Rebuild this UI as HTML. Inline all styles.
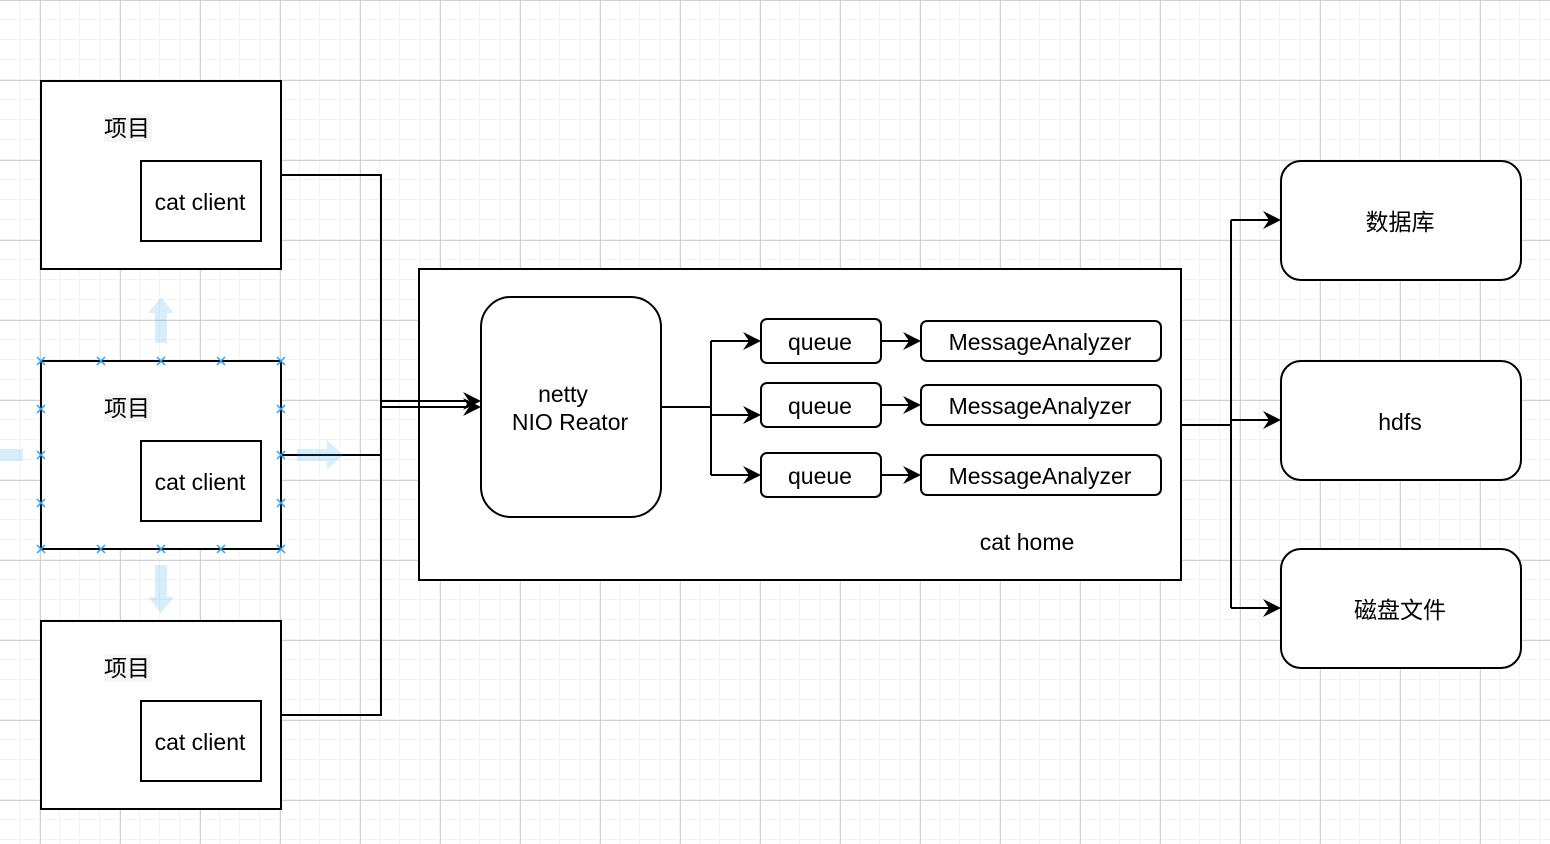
<!DOCTYPE html>
<html><head><meta charset="utf-8"><style>
html,body{margin:0;padding:0;background:#fff;}
svg{display:block;}
text{font-family:"Liberation Sans","Noto Sans CJK SC",sans-serif;font-size:23px;fill:#000;}
</style></head><body>
<svg width="1550" height="844" xmlns="http://www.w3.org/2000/svg">
<defs>
<pattern id="minor" width="20" height="20" patternUnits="userSpaceOnUse">
<path d="M20 0V20M0 20H20" stroke="#f2f2f2" stroke-width="1" fill="none" transform="translate(-0.5,-0.5)"/>
</pattern>
<pattern id="major" x="40" y="0" width="80" height="80" patternUnits="userSpaceOnUse">
<path d="M0.5 0V80M0 0.5H80" stroke="#d0d0d0" stroke-width="1" fill="none"/>
</pattern>
</defs>
<rect width="1550" height="844" fill="url(#minor)"/>
<rect width="1550" height="844" fill="url(#major)"/>

<g fill="none" stroke="#000" stroke-width="2">
<rect x="41" y="81" width="240" height="188" fill="#fff"/>
<rect x="141" y="161" width="120" height="80" fill="#fff"/>
<rect x="41" y="361" width="240" height="188" fill="#fff"/>
<rect x="141" y="441" width="120" height="80" fill="#fff"/>
<rect x="41" y="621" width="240" height="188" fill="#fff"/>
<rect x="141" y="701" width="120" height="80" fill="#fff"/>
<path d="M281 175H381V715H281"/>
<path d="M281 455H381"/>
<rect x="419" y="269" width="762" height="311" fill="#fff"/>
<path d="M381 401H468M381 407H468"/>
<rect x="481" y="297" width="180" height="220" rx="30" fill="#fff"/>
<path d="M661 407H711M711 341V475M711 341H750M711 415H750M711 475H750"/>
<rect x="761" y="319" width="120" height="44" rx="6" fill="#fff"/>
<rect x="761" y="383" width="120" height="44" rx="6" fill="#fff"/>
<rect x="761" y="453" width="120" height="44" rx="6" fill="#fff"/>
<path d="M881 341H910M881 405H910M881 475H910"/>
<rect x="921" y="321" width="240" height="40" rx="6" fill="#fff"/>
<rect x="921" y="385" width="240" height="40" rx="6" fill="#fff"/>
<rect x="921" y="455" width="240" height="40" rx="6" fill="#fff"/>
<path d="M1181 425H1231M1231 220V608M1231 220H1270M1231 420H1270M1231 608H1270"/>
<rect x="1281" y="161" width="240" height="119" rx="20" fill="#fff"/>
<rect x="1281" y="361" width="240" height="119" rx="20" fill="#fff"/>
<rect x="1281" y="549" width="240" height="119" rx="20" fill="#fff"/>
</g>
<g fill="#000">
<polygon points="481,401 463,392 469,401 463,410"/>
<polygon points="481,407 463,398 469,407 463,416"/>
<polygon points="761,341 743,332 749,341 743,350"/>
<polygon points="761,415 743,406 749,415 743,424"/>
<polygon points="761,475 743,466 749,475 743,484"/>
<polygon points="921,341 903,332 909,341 903,350"/>
<polygon points="921,405 903,396 909,405 903,414"/>
<polygon points="921,475 903,466 909,475 903,484"/>
<polygon points="1281,220 1263,211 1269,220 1263,229"/>
<polygon points="1281,420 1263,411 1269,420 1263,429"/>
<polygon points="1281,608 1263,599 1269,608 1263,617"/>
</g>
<g fill="#29a3ef" opacity="0.18">
<polygon points="148,313 161,297 174,313 167,313 167,343 155,343 155,313"/>
<polygon points="148,597 161,613 174,597 167,597 167,565 155,565 155,597"/>
<polygon points="297,449 327,449 327,440 343,455 327,470 327,461 297,461"/>
<rect x="0" y="449" width="23" height="12"/>
</g>
<g stroke="#29a3ef" stroke-width="1.5">
<path d="M37 357l8 8M45 357l-8 8M97 357l8 8M105 357l-8 8M157 357l8 8M165 357l-8 8M217 357l8 8M225 357l-8 8M277 357l8 8M285 357l-8 8"/>
<path d="M37 545l8 8M45 545l-8 8M97 545l8 8M105 545l-8 8M157 545l8 8M165 545l-8 8M217 545l8 8M225 545l-8 8M277 545l8 8M285 545l-8 8"/>
<path d="M37 405l8 8M45 405l-8 8M37 451l8 8M45 451l-8 8M37 499l8 8M45 499l-8 8"/>
<path d="M277 405l8 8M285 405l-8 8M277 451l8 8M285 451l-8 8M277 499l8 8M285 499l-8 8"/>
</g>
<rect x="104" y="114" width="48" height="28" fill="#f5f5f5"/>
<rect x="104" y="394" width="48" height="28" fill="#f5f5f5"/>
<rect x="104" y="654" width="48" height="28" fill="#f5f5f5"/>
<text x="104" y="136">项目</text>
<text x="104" y="416">项目</text>
<text x="104" y="676">项目</text>
<text x="200" y="210" text-anchor="middle">cat client</text>
<text x="200" y="490" text-anchor="middle">cat client</text>
<text x="200" y="750" text-anchor="middle">cat client</text>
<text x="563" y="402" text-anchor="middle">netty</text>
<text x="570" y="430" text-anchor="middle">NIO Reator</text>
<text x="820" y="350" text-anchor="middle">queue</text>
<text x="820" y="414" text-anchor="middle">queue</text>
<text x="820" y="484" text-anchor="middle">queue</text>
<text x="1040" y="350" text-anchor="middle">MessageAnalyzer</text>
<text x="1040" y="414" text-anchor="middle">MessageAnalyzer</text>
<text x="1040" y="484" text-anchor="middle">MessageAnalyzer</text>
<text x="1027" y="550" text-anchor="middle">cat home</text>
<text x="1400" y="230" text-anchor="middle">数据库</text>
<text x="1400" y="430" text-anchor="middle">hdfs</text>
<text x="1400" y="618" text-anchor="middle">磁盘文件</text>
</svg>
</body></html>
